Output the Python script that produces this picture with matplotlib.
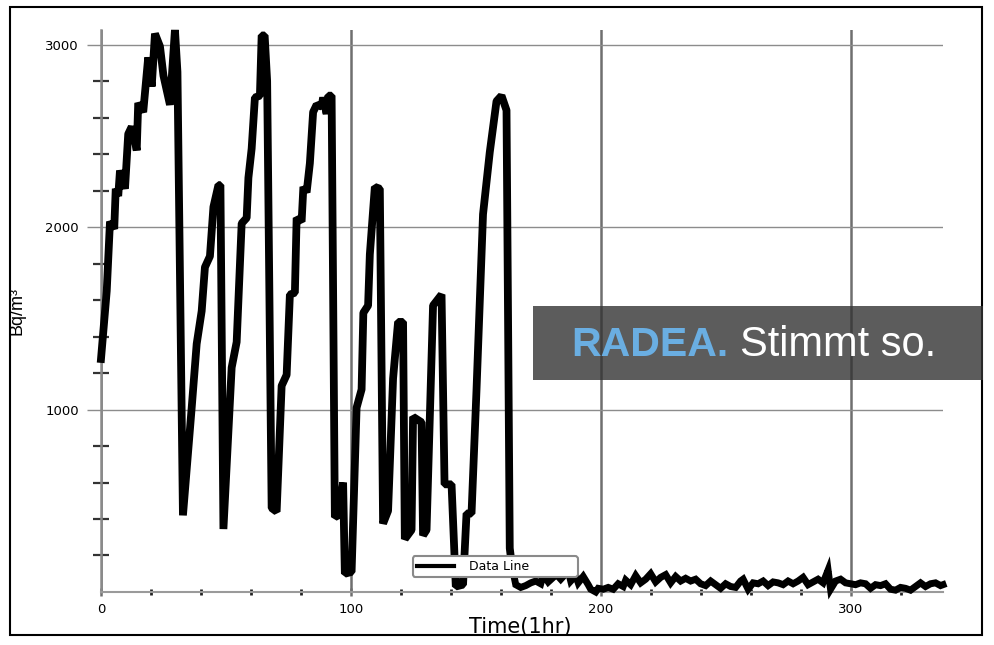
#Radon concentration over time (Bq/m3), hourly readings

#Importing libraries
import numpy as np
import matplotlib
matplotlib.use('Agg')
import matplotlib.pyplot as plt
from matplotlib.patches import Rectangle

#Readings taken off the chart: hour and value
hours = [0, 2.3, 3.6, 5.3, 5.9, 6.9, 7.6, 9.6, 10.9, 12.3, 13.6, 14.3, 14.9, 16.9, 18.9,
         20.3, 21.6, 23.6, 25, 27.6, 29.6, 30.6, 32.8, 36.3, 38.3, 40.3, 41.6, 43.6, 45,
         47, 47.8, 49, 52.3, 54.3, 56.3, 58.3, 59, 60.3, 61.6, 63.6, 64.3, 65.5, 66.5,
         68.3, 70.3, 72.3, 74.3, 75.6, 77.6, 78.3, 80.3, 81, 82.3, 83.6, 84.9, 86.3, 88.3,
         88.9, 90.3, 91, 92.3, 93.6, 95, 96.9, 97.6, 100.3, 102.3, 104.3, 105, 106.9,
         107.6, 109.6, 111.6, 112.9, 114.9, 116.9, 118.9, 120.9, 121.6, 124.3, 124.9,
         128.3, 128.9, 130.3, 132.9, 136.3, 137.5, 140.3, 142, 144.9, 146.3, 148.3, 150.3,
         152.9, 155.6, 158.3, 160.3, 162.3, 163.6, 164.5,
         166, 168, 170, 172, 174, 176, 177, 179, 181, 182, 184, 185, 187, 188, 190, 191,
         193, 195, 196, 198, 199, 201, 203, 205, 207, 209, 210, 212, 214, 216, 218, 220,
         222, 224, 226, 228, 230, 232, 234, 236, 238, 240, 242, 244, 246, 248, 250, 252,
         254, 256, 257, 259, 261, 263, 265, 267, 269, 271, 273, 275, 277, 279, 281, 283,
         285, 287, 289, 291, 292, 294, 296, 298, 300, 302, 304, 306, 308, 310, 312, 314,
         316, 318, 320, 322, 324, 326, 328, 330, 332, 334, 336, 337]
bq = [1277, 1650, 2030, 1990, 2210, 2170, 2310, 2210, 2510, 2550, 2470, 2420, 2680, 2630, 2930,
      2770, 3060, 2990, 2830, 2670, 3080, 2850, 420, 1010, 1360, 1540, 1780, 1840, 2110,
      2230, 2230, 345, 1230, 1370, 2020, 2050, 2270, 2430, 2710, 2720, 3050, 3050, 2800,
      460, 440, 1130, 1190, 1630, 1640, 2050, 2030, 2220, 2190, 2350, 2630, 2670, 2660,
      2710, 2620, 2720, 2720, 410, 420, 600, 100, 110, 1010, 1110, 1530, 1570,
      1850, 2220, 2210, 375, 445, 1170, 1480, 1480, 290, 340, 960,
      930, 310, 340, 1570, 1630, 590, 590, 30, 40, 430, 430, 1110,
      2070, 2410, 2690, 2720, 2640, 240, 139,
      40, 25, 35, 50, 60, 45, 95, 55, 80, 100, 70, 85, 115, 60, 90, 50,
      85, 40, 15, 0, 20, 15, 25, 15, 45, 30, 65, 40, 90, 50, 70, 100,
      55, 80, 95, 50, 85, 60, 75, 60, 70, 45, 35, 60, 40, 20, 45, 30,
      25, 60, 70, 15, 50, 45, 60, 35, 55, 50, 40, 60, 45, 60, 80, 40,
      55, 70, 50, 120, 15, 60, 70, 50, 45, 40, 50, 45, 20, 40, 35, 45,
      15, 10, 25, 20, 10, 30, 50, 30, 45, 50, 35, 40]

#Axis ticks
x_major = [0, 100, 200, 300]
x_minor = [20, 40, 60, 80, 120, 140, 160, 180, 220, 240, 260, 280, 320]
y_major = [1000, 2000, 3000]
y_minor = [200, 400, 600, 800, 1200, 1400, 1600, 1800, 2200, 2400, 2600, 2800]

fig = plt.figure(figsize=(9.94, 6.45), dpi=100)
ax = fig.add_axes([0.1016, 0.0822, 0.8471, 0.8713])

#Active part with bevelled corners, the flat noisy tail with sharp corners
split = hours.index(164.5)
ax.plot(hours[:split + 1], bq[:split + 1], color='black', lw=5.6, solid_joinstyle='bevel',
        clip_on=False, zorder=3, label='Data Line')
ax.plot(hours[split:], bq[split:], color='black', lw=5.0, solid_joinstyle='miter',
        clip_on=False, zorder=3)

ax.set_xlim(0, 337)
ax.set_ylim(0, 3080)

ax.set_xticks(x_major)
ax.set_xticks(x_minor, minor=True)
ax.set_yticks(y_major)
ax.set_yticks(y_minor, minor=True)
ax.set_xticklabels([str(v) for v in x_major], fontsize=9.5)
ax.set_yticklabels([str(v) for v in y_major], fontsize=9.5)

#Grid: heavier vertical lines, thin horizontal lines
ax.set_axisbelow(True)
ax.xaxis.grid(True, which='major', color='#6f6f6f', lw=1.8)
ax.yaxis.grid(True, which='major', color='#8c8c8c', lw=1.0)

ax.tick_params(axis='y', which='major', direction='out', length=10, width=1,
               color='#8c8c8c', pad=6)
ax.tick_params(axis='y', which='minor', direction='inout', length=12, width=1.6,
               color='#333333')
ax.tick_params(axis='x', which='major', direction='inout', length=6, width=1.8,
               color='#6f6f6f', pad=5)
ax.tick_params(axis='x', which='minor', direction='inout', length=4, width=2,
               color='#222222')

for s in ['top', 'right']:
    ax.spines[s].set_visible(False)
ax.spines['left'].set_color('#8a8a8a')
ax.spines['left'].set_linewidth(1.8)
ax.spines['bottom'].set_color('#9a9a9a')
ax.spines['bottom'].set_linewidth(1.5)

#Legend box in the lower middle
leg = ax.legend(loc='lower left', bbox_to_anchor=(0.3705, 0.027, 0.196, 0.04), mode='expand',
                fontsize=9, handlelength=3.0, handletextpad=1.2, borderpad=0.3,
                borderaxespad=0, fancybox=True, edgecolor='#8a8a8a', framealpha=1)
leg.get_frame().set_linewidth(1.5)
leg.set_zorder(6)
for h in leg.legend_handles:
    h.set_linewidth(3)

#Axis titles
fig.text(520 / 994, 1 - 627 / 645, 'Time(1hr)', fontsize=15, ha='center', va='center')
fig.text(17 / 994, 1 - 311 / 645, 'Bq/m³', fontsize=13, rotation=90, ha='center',
         va='center', family='Liberation Sans')

#Outer frame
fig.patches.append(Rectangle((10 / 994, 1 - 635 / 645), 972 / 994, 628 / 645,
                             transform=fig.transFigure, fill=False, edgecolor='black',
                             lw=1.5, zorder=4))

#Grey banner
fig.patches.append(Rectangle((533 / 994, 1 - 380 / 645), 450 / 994, 74 / 645,
                             transform=fig.transFigure, facecolor='#333333', alpha=0.8,
                             edgecolor='none', zorder=5))
fig.text(571 / 994, 1 - 345 / 645, 'RADEA.', fontsize=29.5, fontweight='bold',
         color='#6aaee2', family='Liberation Sans', ha='left', va='center', zorder=6)
fig.text(740 / 994, 1 - 345 / 645, 'Stimmt so.', fontsize=30, color='white',
         family='Liberation Sans', ha='left', va='center', zorder=6)

plt.savefig('out.png', dpi=100)
